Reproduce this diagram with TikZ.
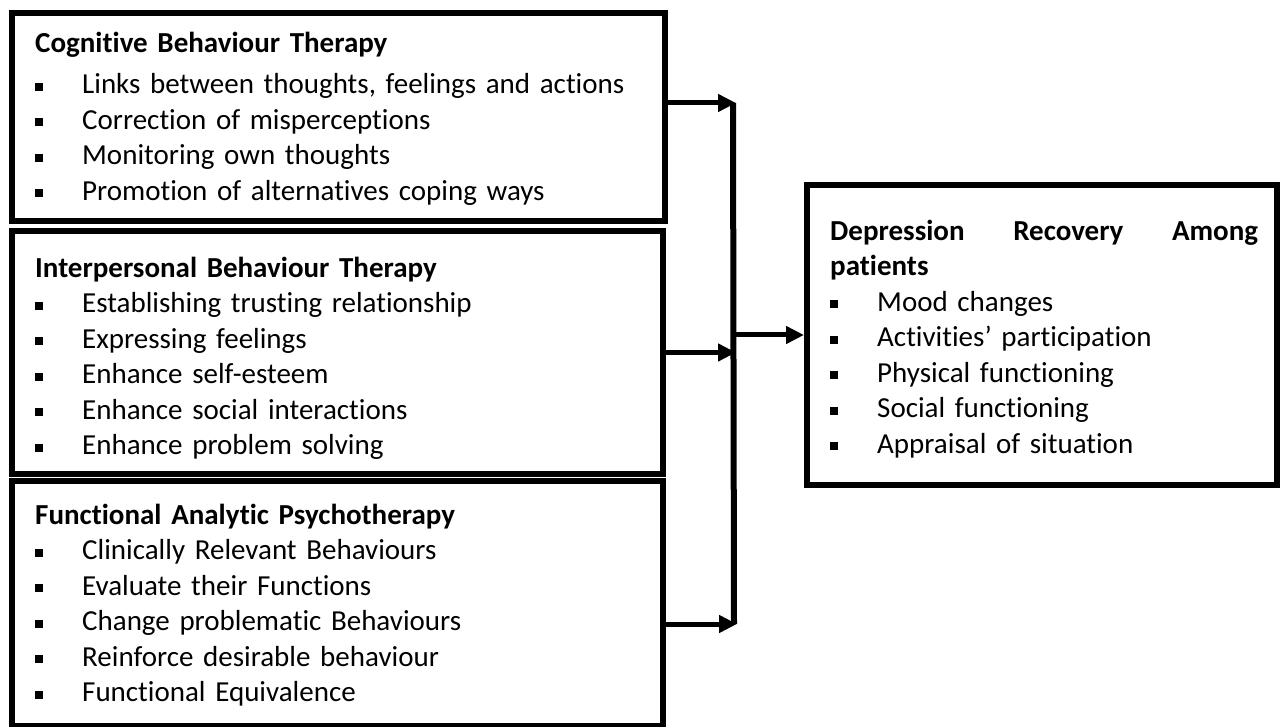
\documentclass[tikz,border=0pt]{standalone}
\usepackage{fontspec}
\setmainfont{Carlito}[Ligatures=CommonOff]
\usepackage{tikz}
\usetikzlibrary{arrows.meta}

% square bullet in front of each point
\newcommand{\sq}{\\\strut\rule[3pt]{8pt}{8pt}\hspace{39pt}}

\begin{document}
\begin{tikzpicture}[x=1pt,y=-1pt,
    box/.style={draw, line width=6pt, inner sep=0pt},
    txt/.style={anchor=north west, inner sep=0pt, align=left, text width=610pt,
        font=\fontsize{29}{35.5}\selectfont},
    flow/.style={line width=5pt, -{Triangle[length=18pt,width=17pt]}}]

    \useasboundingbox (0,0) rectangle (1280,727);

    % the four boxes
    \node[box, minimum width=653pt, minimum height=208pt] (cbt) at (338.5,117) {};
    \node[box, minimum width=651pt, minimum height=243pt] (ibt) at (337.5,352.5) {};
    \node[box, minimum width=651pt, minimum height=245pt] (fap) at (337.5,603.5) {};
    \node[box, minimum width=470pt, minimum height=300pt] (dep) at (1042,335) {};

    \node[txt] (cbttext) at (35,27) {\strut\textbf{Cognitive Behaviour Therapy}\\[6pt]
        \strut\rule[3pt]{8pt}{8pt}\hspace{39pt}Links between thoughts, feelings and actions
        \sq Correction of misperceptions
        \sq Monitoring own thoughts
        \sq Promotion of alternatives coping ways};

    \node[txt] (ibttext) at (35,252) {\strut\textbf{Interpersonal Behaviour Therapy}
        \sq Establishing trusting relationship
        \sq Expressing feelings
        \sq Enhance self-esteem
        \sq Enhance social interactions
        \sq Enhance problem solving};

    \node[txt] (faptext) at (35,499) {\strut\textbf{Functional Analytic Psychotherapy}
        \sq Clinically Relevant Behaviours
        \sq Evaluate their Functions
        \sq Change problematic Behaviours
        \sq Reinforce desirable behaviour
        \sq Functional Equivalence};

    \node[txt, text width=440pt] (deptext) at (830,215)
        {\strut\textbf{\hbox to 428pt{Depression\hfill Recovery\hfill Among}}
        \\\strut\textbf{patients}
        \sq Mood changes
        \sq Activities’ participation
        \sq Physical functioning
        \sq Social functioning
        \sq Appraisal of situation};

    % collecting line
    \coordinate (bustop) at (733,103);
    \coordinate (busbot) at (734,624);
    \coordinate (busmid) at (733,335);
    \draw[line width=6pt] (bustop) -- (busbot);

    \draw[flow] (cbt.east |- bustop) -- ([xshift=3pt]bustop);
    \draw[flow] (ibt.east) -- ([xshift=3pt]bustop |- ibt.east);
    \draw[flow] (fap.east |- busbot) -- ([xshift=3pt]busbot);
    \draw[flow] (busmid) -- (dep.west);

\end{tikzpicture}
\end{document}
